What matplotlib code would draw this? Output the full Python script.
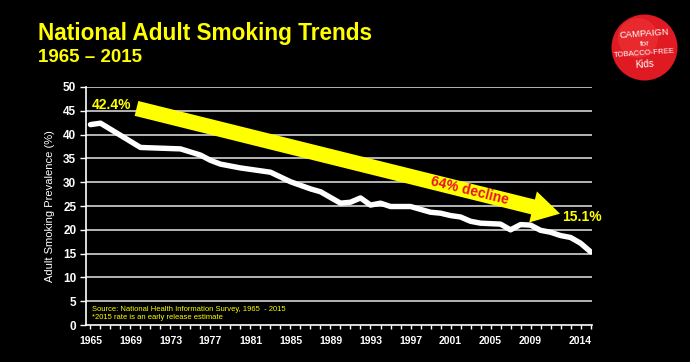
import matplotlib
matplotlib.use("Agg")
import matplotlib.pyplot as plt
from matplotlib.patches import FancyArrowPatch, ArrowStyle, Circle

plt.rcParams['font.family'] = ['Liberation Sans', 'DejaVu Sans']

# survey years with a reading, and adult smoking prevalence (%)
years = [1965, 1966, 1970, 1974, 1976, 1977, 1978, 1979, 1980, 1983, 1985,
         1987, 1988, 1990, 1991, 1992, 1993, 1994, 1995, 1997, 1998, 1999,
         2000, 2001, 2002, 2003, 2004, 2005, 2006, 2007, 2008, 2009, 2010,
         2011, 2012, 2013, 2014, 2015]
prevalence = [42.1, 42.4, 37.3, 37.0, 35.7, 34.6, 33.8, 33.4, 33.0, 32.1, 30.1,
              28.6, 28.0, 25.6, 25.8, 26.7, 25.2, 25.6, 24.9, 24.9, 24.3, 23.7,
              23.5, 23.0, 22.7, 21.8, 21.4, 21.3, 21.2, 20.0, 21.1, 21.0, 19.9,
              19.5, 18.8, 18.4, 17.2, 15.4]
year_labels = [1965, 1969, 1973, 1977, 1981, 1985, 1989, 1993, 1997, 2001,
               2005, 2009, 2014]
y_ticks = list(range(0, 55, 5))

start_value = 42.4
end_value = 15.1

yellow = '#ffff00'

fig = plt.figure(figsize=(6.9, 3.62), dpi=100, facecolor='black')
ax = fig.add_axes([0.1246, 0.102, 0.7334, 0.6577], facecolor='black')

ax.set_xlim(1964.55, 2015.15)
ax.set_ylim(0, 50)

for v in y_ticks[1:]:
    ax.axhline(v, color='#b4b4b4', lw=1.4, zorder=1)

ax.plot(years, prevalence, color='white', lw=3.9, solid_joinstyle='round',
        solid_capstyle='round', zorder=3)

# big yellow arrow
arrow = FancyArrowPatch((1969.6, 45.5), (2011.95, 23.4),
                        arrowstyle=ArrowStyle('simple', head_length=20,
                                              head_width=23, tail_width=11),
                        mutation_scale=1, shrinkA=0, shrinkB=0,
                        color=yellow, lw=0, zorder=4)
ax.add_patch(arrow)

ax.text(1965.15, 46.2, f'{start_value}%', color=yellow, fontsize=10,
        fontweight='bold', va='center', ha='left', zorder=5)
ax.text(2012.15, 22.7, f'{end_value}%', color=yellow, fontsize=10,
        fontweight='bold', va='center', ha='left', zorder=5)
ax.text(2002.95, 28.3, '64% decline', color='#e8102a', fontsize=10,
        fontweight='bold', va='center', ha='center', rotation=-14, zorder=5)

ax.text(1965.2, 3.2, 'Source: National Health Information Survey, 1965  - 2015',
        color=yellow, fontsize=5.5, va='center', ha='left')
ax.text(1965.2, 1.5, '*2015 rate is an early release estimate',
        color=yellow, fontsize=5.5, va='center', ha='left')

# axes styling
for side in ['top', 'right']:
    ax.spines[side].set_visible(False)
for side in ['left', 'bottom']:
    ax.spines[side].set_color('white')
    ax.spines[side].set_linewidth(1.2)

ax.set_yticks(y_ticks)
ax.set_xticks(year_labels)
ax.set_xticks(range(1965, 2016), minor=True)
ax.tick_params(axis='y', colors='white', labelsize=8.5, length=4, width=1, pad=3)
ax.tick_params(axis='x', which='major', colors='white', labelsize=7.5, length=3,
               width=1, pad=5)
ax.tick_params(axis='x', which='minor', colors='white', length=3, width=1)
for lbl in ax.get_yticklabels() + ax.get_xticklabels():
    lbl.set_fontweight('bold')

ax.set_ylabel('Adult Smoking Prevalence (%)', color='white', fontsize=8,
              labelpad=6)

# titles
fig.text(0.055, 0.8895, 'National Adult Smoking Trends', color=yellow,
         fontsize=16.3, fontweight='bold', va='baseline', ha='left')
fig.text(0.055, 0.8287, '1965 \u2013 2015', color=yellow,
         fontsize=13.5, fontweight='bold', va='baseline', ha='left')

# logo badge
fig.add_artist(Circle((644.5, 362 - 47.5), 33, transform=None,
                      facecolor='#e01a22', edgecolor='none'))
fig.add_artist(Circle((638, 362 - 38), 20, transform=None,
                      facecolor='#f03a3a', edgecolor='none', alpha=0.5))
logo_lines = [('CAMPAIGN', 0.906, 6.8), ('for', 0.879, 6),
              ('TOBACCO-FREE', 0.852, 5.6), ('Kids', 0.823, 7)]
for txt, yy, fs in logo_lines:
    fig.text(0.934, yy, txt, color='white', fontsize=fs,
             ha='center', va='center', rotation=4)

fig.savefig('out.png', dpi=100, facecolor='black')
